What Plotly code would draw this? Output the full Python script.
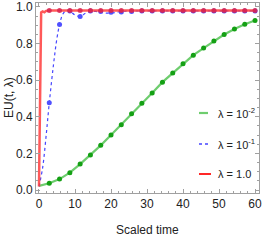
import plotly.graph_objects as go

# ---- data ----
marker_t = [k * 60 / 21 for k in range(22)]

green_vals = [0.023, 0.037, 0.06, 0.095, 0.142, 0.192, 0.244, 0.301, 0.357, 0.416, 0.474,
              0.53, 0.589, 0.639, 0.69, 0.736, 0.775, 0.814, 0.849, 0.879, 0.905, 0.926]

blue_marker_vals = [0.02, 0.476, 0.903, 0.977, 0.948, 0.977, 0.975, 0.97, 0.972, 0.975, 0.977,
                    0.978, 0.978, 0.978, 0.978, 0.978, 0.978, 0.978, 0.978, 0.978, 0.978, 0.978]
blue_curve_t = [0, 1, 2, 2.857, 4, 5, 5.714, 6.5, 7.5, 8.571, 10, 11.43, 12.9, 14.29,
                15.7, 17.14, 18.6, 20, 21.4, 22.86, 25.71, 30, 40, 50, 60]
blue_curve_v = [0.02, 0.12, 0.3, 0.476, 0.68, 0.83, 0.903, 0.955, 0.98, 0.977, 0.955, 0.948,
                0.965, 0.977, 0.975, 0.972, 0.966, 0.966, 0.97, 0.975, 0.977, 0.978, 0.978, 0.978, 0.978]

red_curve_t = [0, 0.3, 0.6, 1.0, 1.5, 2.0, 2.857, 10, 20, 30, 40, 50, 60]
red_curve_v = [0.02, 0.5, 0.97, 0.975, 0.97, 0.978, 0.98, 0.98, 0.98, 0.98, 0.98, 0.98, 0.98]
red_marker_vals = [0.98] * 22

legend_labels = ["λ = 10<sup>-2</sup>", "λ = 10<sup>-1</sup>", "λ = 1.0"]

x_ticks = [0, 10, 20, 30, 40, 50, 60]
y_ticks = [0.0, 0.2, 0.4, 0.6, 0.8, 1.0]

FONT = "Liberation Sans Narrow, Liberation Sans, sans-serif"

green_line = "rgb(110,205,110)"
green_mark = "rgb(20,160,20)"
blue_line = "rgb(70,70,255)"
blue_mark = "rgb(80,80,255)"
red_line = "rgba(255,60,60,0.85)"
red_mark = "rgb(215,35,80)"

L, R, T, B = 36, 259, 3, 193

fig = go.Figure()

# green
fig.add_trace(go.Scatter(x=marker_t, y=green_vals, mode="lines",
                         line=dict(color=green_line, width=2.2), showlegend=False))
fig.add_trace(go.Scatter(x=marker_t[1:], y=green_vals[1:], mode="markers",
                         marker=dict(color=green_mark, size=5), showlegend=False))
# blue
fig.add_trace(go.Scatter(x=blue_curve_t, y=blue_curve_v, mode="lines", line_shape="spline",
                         line=dict(color=blue_line, width=1.2, dash="dot"), showlegend=False))
fig.add_trace(go.Scatter(x=marker_t[1:], y=blue_marker_vals[1:], mode="markers",
                         marker=dict(color=blue_mark, size=5), showlegend=False))
# red
fig.add_trace(go.Scatter(x=red_curve_t, y=red_curve_v, mode="lines",
                         line=dict(color=red_line, width=2.5), showlegend=False))
fig.add_trace(go.Scatter(x=marker_t[1:], y=red_marker_vals[1:], mode="markers",
                         marker=dict(color=red_mark, size=5, opacity=0.85), showlegend=False))

# manual legend
leg_y = [113, 144, 174]
leg_styles = [dict(color=green_line, width=2.2, dash="dash"),
              dict(color=blue_line, width=1.5, dash="dot"),
              dict(color="rgb(255,40,40)", width=2)]
for lab, yy, st in zip(legend_labels, leg_y, leg_styles):
    yp = 1 - (yy - T) / (B - T)
    fig.add_shape(type="line", xref="paper", yref="paper",
                  x0=(199 - L) / (R - L), x1=(211 - L) / (R - L), y0=yp, y1=yp,
                  line=st)
    fig.add_annotation(xref="paper", yref="paper", x=(216 - L) / (R - L), y=yp,
                       text=lab, showarrow=False, xanchor="left", yanchor="middle",
                       font=dict(family=FONT, size=11, color="#222"))

# axis titles as annotations
fig.add_annotation(xref="paper", yref="paper", x=0.5, y=-(230 - B) / (B - T),
                   text="Scaled time", showarrow=False, xanchor="center", yanchor="middle",
                   font=dict(family=FONT, size=12, color="#222"))
fig.add_annotation(xref="paper", yref="paper", x=-(L - 9) / (R - L), y=0.5,
                   text="EU(t, λ)", showarrow=False, textangle=-90,
                   xanchor="center", yanchor="middle",
                   font=dict(family=FONT, size=12, color="#222"))

axis_common = dict(showline=True, linecolor="#a0a0a0", linewidth=1, mirror="ticks",
                   ticks="inside", ticklen=4, tickcolor="#a0a0a0", showgrid=False,
                   zeroline=False, automargin=False, ticklabeloverflow="allow",
                   tickfont=dict(family=FONT, size=12, color="#222"))

fig.update_xaxes(range=[-0.83, 61.1], tickvals=x_ticks,
                 minor=dict(ticks="inside", ticklen=2, tickcolor="#a0a0a0", dtick=2, tick0=0,
                            showgrid=False),
                 **axis_common)
fig.update_yaxes(range=[-0.016, 1.021], tickvals=y_ticks, tickformat=".1f",
                 minor=dict(ticks="inside", ticklen=2, tickcolor="#a0a0a0", dtick=0.05, tick0=0,
                            showgrid=False),
                 **axis_common)

fig.update_layout(width=262, height=240, margin=dict(l=L, r=262 - R, t=T, b=240 - B),
                  plot_bgcolor="white", paper_bgcolor="white", showlegend=False)

fig.write_html("out.html", config={"displayModeBar": False},
               post_script="document.body.style.margin='0';document.body.style.padding='0';")
